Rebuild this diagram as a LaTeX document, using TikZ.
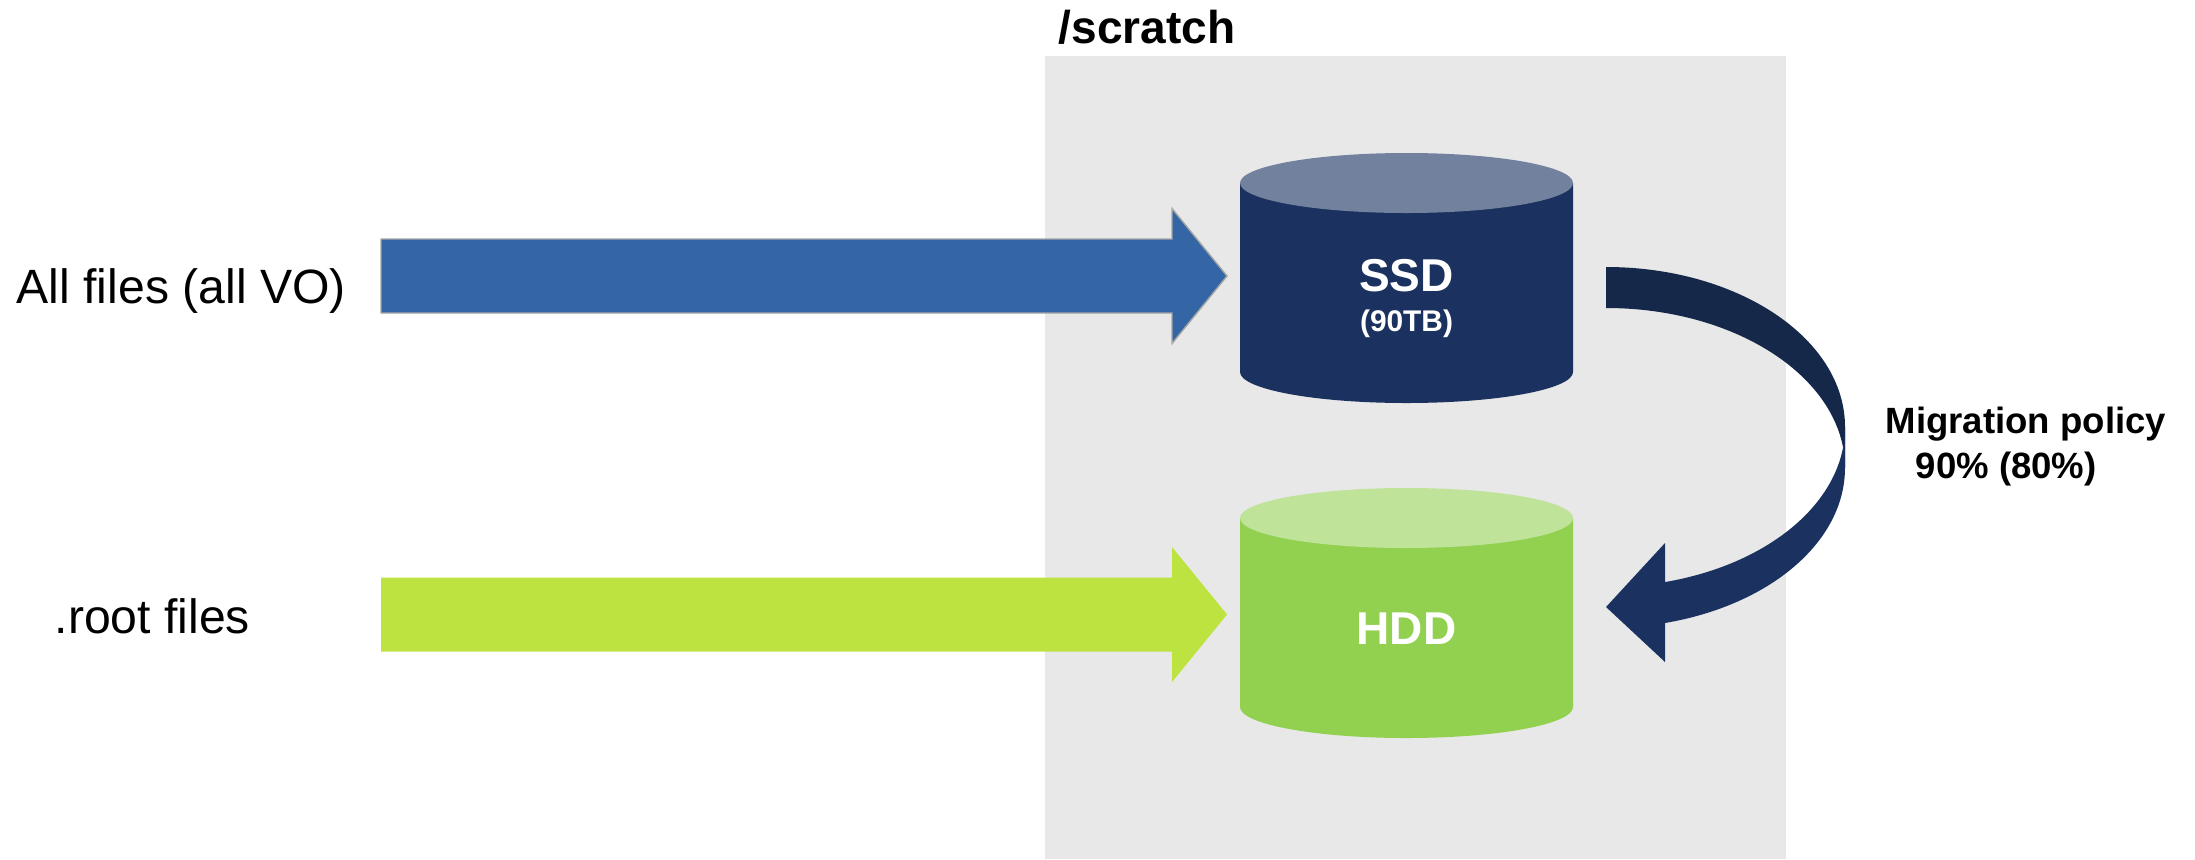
\documentclass[tikz,border=0pt]{standalone}
\usepackage{fontspec}
\setmainfont{Liberation Sans}
\usepackage{tikz}
\definecolor{scratchgray}{RGB}{232,232,232}
\definecolor{allblue}{RGB}{52,101,165}
\definecolor{rootgreen}{RGB}{188,227,63}
\definecolor{ssdnavy}{RGB}{27,49,95}
\definecolor{ssdtop}{RGB}{114,130,158}
\definecolor{hddgreen}{RGB}{146,208,80}
\definecolor{hddtop}{RGB}{192,227,154}
\definecolor{migdark}{RGB}{21,40,74}

\begin{document}
\begin{tikzpicture}[txt/.style={inner sep=0, anchor=base west, font=\fontsize{13.7pt}{16pt}\selectfont}, disk/.style={inner sep=0, text=white, font=\bfseries\fontsize{13.1pt}{15pt}\selectfont}, pol/.style={inner sep=0, anchor=base west, font=\bfseries\fontsize{10.4pt}{12pt}\selectfont}, allarr/.style={fill=allblue, draw=gray!70, line width=0.4pt}, rootarr/.style={fill=rootgreen}]
\useasboundingbox (0,0) rectangle (21.95,8.59);
\fill[scratchgray] (10.45,0) rectangle (17.86,8.03);
\node[txt, font=\bfseries\fontsize{13.1pt}{15pt}\selectfont] (scratch) at (10.58,8.16) {/scratch};
% disks
\foreach \n/\y/\b/\t in {ssd/6.76/ssdnavy/ssdtop, hdd/3.41/hddgreen/hddtop}{
  \fill[\b] (12.40,\y) -- ++(0,-1.89) arc[start angle=180, end angle=360, x radius=1.665, y radius=0.31] -- ++(0,1.89) -- cycle;
  \fill[\t] (14.065,\y) ellipse[x radius=1.665, y radius=0.30];
}
\node[disk] (ssd) at (14.065,5.83) {SSD};
\node[disk, font=\bfseries\fontsize{8.5pt}{10pt}\selectfont] (ssdsize) at (14.065,5.35) {(90TB)};
\node[disk] (hdd) at (14.065,2.30) {HDD};
% inputs
\node[txt] (allvo) at (0.16,5.56) {All files (all VO)};
\node[txt] (rootf) at (0.54,2.26) {.root files};
\coordinate (a1) at (3.81,5.83);
\coordinate (a2) at (3.81,2.445);
\foreach \c/\s in {a1/allarr, a2/rootarr}{
  \path[\s] (\c) ++(0,0.37) -- ++(7.91,0) -- ++(0,0.305) -- ++(0.55,-0.675) -- ++(-0.55,-0.675) -- ++(0,0.305) -- ++(-7.91,0) -- cycle;
}
% migration
\coordinate (mtail) at (16.06,5.92);
\fill[migdark] (mtail) arc[start angle=90, end angle=0, x radius=2.39, y radius=1.60] -- ++(0,-0.41) arc[start angle=0, end angle=90, x radius=2.39, y radius=1.60] -- cycle;
\fill[ssdnavy] (18.45,4.32) arc[start angle=0, end angle=-75.7, x radius=2.39, y radius=1.60] -- (16.65,3.16) -- (16.06,2.52) -- (16.65,1.97) -- (16.65,2.36) arc[start angle=-75.7, end angle=0, x radius=2.39, y radius=1.60] -- cycle;
\node[pol] (mig) at (18.85,4.26) {Migration policy};
\node[pol] (pct) at (19.15,3.81) {90\% (80\%)};
\end{tikzpicture}
\end{document}
